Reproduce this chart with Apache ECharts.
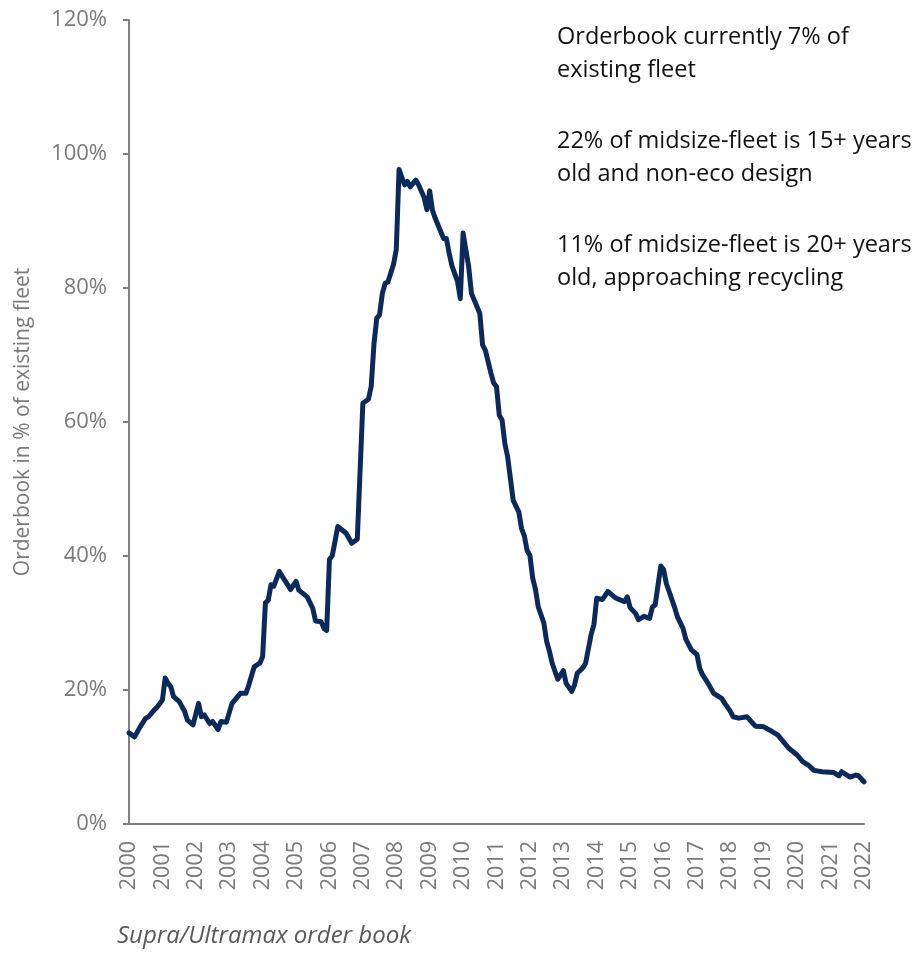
<!DOCTYPE html>
<html>
<head>
<meta charset="utf-8">
<script src="https://cdn.jsdelivr.net/npm/echarts@6/dist/echarts.min.js"></script>
<style>
html,body{margin:0;padding:0;background:#fff;}
#chart{width:918px;height:953px;}
</style>
</head>
<body>
<div id="chart"></div>
<script>
const months = [
'2000-01','2000-03','2000-05','2000-07','2000-08','2000-10','2000-11',
'2001-01','2001-02','2001-03','2001-04','2001-05','2001-07','2001-09','2001-10','2001-12',
'2002-02','2002-03','2002-04','2002-06','2002-07','2002-09','2002-10','2002-12',
'2003-02','2003-03','2003-05','2003-07','2003-08','2003-10','2003-12',
'2004-01','2004-02','2004-03','2004-04','2004-05','2004-07','2004-08','2004-10','2004-11',
'2005-01','2005-02','2005-05','2005-07','2005-08','2005-10','2005-11','2005-12',
'2006-01','2006-02','2006-04','2006-07','2006-09','2006-11',
'2007-01','2007-03','2007-04','2007-05','2007-06','2007-07','2007-08','2007-09','2007-10','2007-12',
'2008-01','2008-02','2008-03','2008-04','2008-05','2008-06','2008-08','2008-09','2008-11','2008-12',
'2009-01','2009-02','2009-03','2009-05','2009-06','2009-07','2009-08','2009-09','2009-11','2009-12',
'2010-01','2010-02','2010-03','2010-04','2010-06','2010-07','2010-08','2010-09','2010-11','2010-12',
'2011-01','2011-02','2011-03','2011-04','2011-05','2011-07','2011-09','2011-10','2011-11','2011-12',
'2012-01','2012-02','2012-03','2012-04','2012-06','2012-07','2012-08','2012-09','2012-11',
'2013-01','2013-02','2013-04','2013-05','2013-06','2013-08','2013-09','2013-11','2013-12',
'2014-01','2014-03','2014-05','2014-07','2014-08','2014-11','2014-12',
'2015-01','2015-03','2015-04','2015-06','2015-08','2015-09','2015-10','2015-12',
'2016-01','2016-02','2016-03','2016-05','2016-06','2016-08','2016-09','2016-11',
'2017-01','2017-02','2017-03','2017-05','2017-07','2017-10','2017-11',
'2018-01','2018-02','2018-04','2018-07','2018-10',
'2019-01','2019-04','2019-06','2019-08','2019-10',
'2020-01','2020-03','2020-05','2020-07','2020-10',
'2021-02','2021-04','2021-05','2021-08','2021-10','2021-11',
'2022-01'
];
const values = [
13.6,13.0,14.5,15.8,16.0,17.0,17.4,
18.5,21.8,21.0,20.5,19.0,18.3,16.8,15.5,14.8,
18.0,16.0,16.3,15.0,15.3,14.1,15.3,15.2,
18.0,18.5,19.5,19.5,20.7,23.5,24.0,
25.0,33.0,33.4,35.7,35.5,37.7,37.0,35.7,35.0,
36.2,34.9,33.9,32.2,30.3,30.2,29.2,28.9,
39.5,40.0,44.4,43.4,41.9,42.5,
62.8,63.4,65.3,71.7,75.5,76.0,79.2,80.7,80.9,83.5,
85.7,97.7,96.5,95.4,95.9,95.1,96.1,95.4,93.5,91.7,
94.5,91.6,90.4,88.4,87.4,87.4,85.2,83.3,81.0,78.4,
88.2,85.7,83.2,79.2,77.2,76.2,71.5,70.7,67.3,65.8,
65.3,61.0,60.3,56.8,54.8,48.3,46.6,44.1,43.0,40.8,
40.1,36.7,35.0,32.4,30.0,27.3,25.8,24.0,21.6,
22.9,21.0,19.8,20.7,22.5,23.3,24.0,28.3,29.8,
33.7,33.5,34.7,34.0,33.7,33.2,33.9,
32.3,31.4,30.5,31.0,30.7,32.4,32.7,38.5,
38.0,35.9,34.7,32.3,30.9,29.2,27.6,26.0,
25.3,23.2,22.3,21.0,19.5,18.7,18.0,
16.8,16.0,15.8,16.0,14.6,
14.5,13.8,13.3,12.3,11.3,
10.3,9.3,8.8,8.0,7.8,
7.7,7.2,7.8,7.0,7.3,7.2,
6.3
];
const yTicks = [0, 20, 40, 60, 80, 100, 120];
const xYears = [2000, 2022];
const notes = [
  ['Orderbook currently 7% of', 'existing fleet'],
  ['22% of midsize-fleet is 15+ years', 'old and non-eco design'],
  ['11% of midsize-fleet is 20+ years', 'old, approaching recycling']
];
const caption = 'Supra/Ultramax order book';
const yName = 'Orderbook in % of existing fleet';

const seriesData = months.map((m, i) => {
  const [y, mo] = m.split('-').map(Number);
  return [y + (mo - 1) / 12, values[i]];
});

const FONT = '"Open Sans", "Noto Sans", sans-serif';
const chart = echarts.init(document.getElementById('chart'), null, {renderer: 'canvas'});

const graphics = [];
notes.forEach((lines, k) => {
  graphics.push({
    type: 'text',
    left: 557,
    top: 21 + k * 104,
    style: {
      text: lines.join('\n'),
      font: '23.5px ' + FONT,
      fill: '#111111',
      lineHeight: 33
    }
  });
});
graphics.push({
  type: 'text',
  left: 117,
  top: 924,
  style: {
    text: caption,
    font: 'italic 24px ' + FONT,
    fill: '#595959'
  }
});

chart.setOption({
  animation: false,
  backgroundColor: '#ffffff',
  grid: {left: 129, right: 54, top: 20, bottom: 129, containLabel: false},
  xAxis: {
    type: 'value',
    min: xYears[0],
    max: xYears[1],
    interval: 1,
    axisLine: {show: true, onZero: false, lineStyle: {color: '#7f7f7f', width: 2}},
    axisTick: {show: false},
    splitLine: {show: false},
    axisLabel: {
      rotate: 90,
      margin: 17,
      color: '#7a7a7a',
      fontFamily: FONT,
      fontSize: 21.5,
      formatter: v => (Number.isInteger(v) ? String(v) : '')
    }
  },
  yAxis: {
    type: 'value',
    min: yTicks[0],
    max: yTicks[yTicks.length - 1],
    interval: 20,
    name: yName,
    nameLocation: 'middle',
    nameGap: 95,
    nameTextStyle: {color: '#7a7a7a', fontFamily: FONT, fontSize: 21},
    axisLine: {show: true, lineStyle: {color: '#7f7f7f', width: 2}},
    axisTick: {show: true, length: 6, lineStyle: {color: '#7f7f7f', width: 2}},
    splitLine: {show: false},
    axisLabel: {
      margin: 22,
      color: '#7a7a7a',
      fontFamily: FONT,
      fontSize: 22,
      formatter: '{value}%'
    }
  },
  graphic: graphics,
  series: [{
    type: 'line',
    data: seriesData,
    showSymbol: false,
    smooth: false,
    lineStyle: {color: '#0b2a5b', width: 5, join: 'round', cap: 'round'},
    itemStyle: {color: '#0b2a5b'}
  }]
});
</script>
</body>
</html>
